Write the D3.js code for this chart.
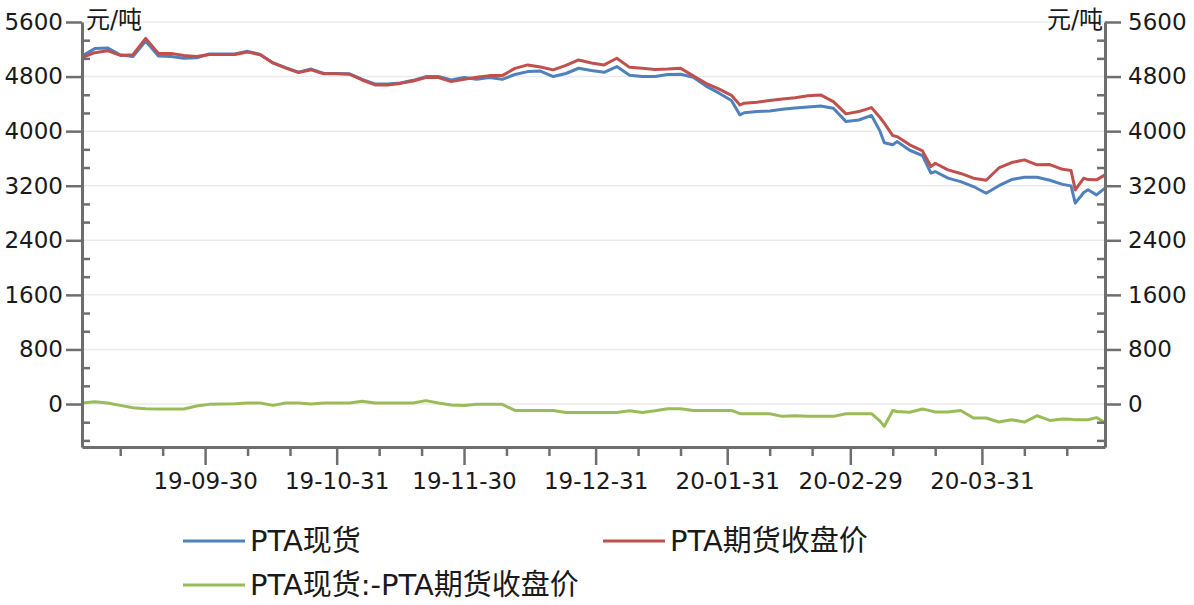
<!DOCTYPE html>
<html>
<head>
<meta charset="utf-8">
<script src="https://cdn.jsdelivr.net/npm/d3@7"></script>
<style>
  body { margin: 0; background: #fff; }
  svg { display: block; }
  text { font-family: "DejaVu Sans", "Noto Sans CJK SC", sans-serif; fill: #1a1a1a; }
</style>
</head>
<body>
<svg id="chart" width="1194" height="605"></svg>
<script>
const dates = [
  "2019-09-01","2019-09-04","2019-09-07","2019-09-10","2019-09-13","2019-09-16","2019-09-19","2019-09-22","2019-09-25","2019-09-28",
  "2019-10-01","2019-10-04","2019-10-07","2019-10-10","2019-10-13","2019-10-16","2019-10-19","2019-10-22","2019-10-25","2019-10-28","2019-10-31",
  "2019-11-03","2019-11-06","2019-11-09","2019-11-12","2019-11-15","2019-11-18","2019-11-21","2019-11-24","2019-11-27","2019-11-30",
  "2019-12-03","2019-12-06","2019-12-09","2019-12-12","2019-12-15","2019-12-18","2019-12-21","2019-12-24","2019-12-27","2019-12-30",
  "2020-01-02","2020-01-05","2020-01-08","2020-01-11","2020-01-14","2020-01-17","2020-01-20","2020-01-23","2020-01-26","2020-01-29",
  "2020-02-01","2020-02-03","2020-02-04","2020-02-07","2020-02-10","2020-02-13","2020-02-16","2020-02-19","2020-02-22","2020-02-25","2020-02-28",
  "2020-03-02","2020-03-05","2020-03-07","2020-03-08","2020-03-10","2020-03-11","2020-03-14","2020-03-17","2020-03-19","2020-03-20","2020-03-23","2020-03-26","2020-03-29",
  "2020-04-01","2020-04-04","2020-04-07","2020-04-10","2020-04-13","2020-04-16","2020-04-19","2020-04-21","2020-04-22","2020-04-24","2020-04-25","2020-04-27","2020-04-29"
];

// PTA现货
const spot = [
  5100,5210,5220,5120,5095,5320,5100,5095,5070,5075,
  5130,5130,5130,5170,5125,5000,4930,4865,4910,4845,4845,
  4840,4760,4692,4692,4705,4745,4800,4800,4751,4785,
  4760,4785,4760,4830,4873,4880,4800,4845,4922,4890,
  4863,4946,4820,4800,4800,4830,4834,4790,4660,4560,
  4450,4238,4270,4287,4295,4320,4340,4355,4370,4336,4140,
  4163,4230,4000,3830,3800,3847,3720,3640,3384,3408,3311,3260,3188,
  3090,3200,3290,3325,3325,3280,3220,3198,2945,3100,3140,3066,3164
];

// PTA期货收盘价
const futures = [
  5080,5150,5180,5110,5120,5360,5140,5140,5110,5095,
  5125,5125,5125,5160,5120,5000,4925,4860,4900,4840,4840,
  4835,4750,4678,4678,4700,4736,4785,4785,4726,4760,
  4790,4814,4814,4920,4971,4940,4898,4965,5044,5000,
  4971,5069,4935,4922,4905,4910,4922,4810,4700,4620,
  4525,4385,4410,4424,4450,4470,4490,4520,4531,4433,4253,
  4287,4345,4200,4117,3935,3920,3800,3710,3481,3530,3432,3380,3311,
  3280,3460,3540,3579,3506,3510,3440,3423,3139,3311,3290,3286,3359
];

// PTA现货:-PTA期货收盘价
const spread = [
  15,35,15,-20,-55,-70,-73,-73,-73,-30,
  -5,0,5,15,15,-20,15,15,0,15,15,
  15,40,15,15,15,15,50,15,-15,-20,
  -5,-5,-5,-94,-94,-94,-94,-123,-123,-123,
  -123,-123,-100,-123,-100,-69,-69,-94,-94,-94,
  -94,-142,-142,-142,-142,-181,-172,-180,-181,-181,-142,
  -142,-142,-250,-328,-94,-110,-120,-73,-100,-117,-117,-94,-205,
  -205,-264,-230,-264,-172,-240,-220,-225,-230,-230,-230,-200,-270
];

const seriesNames = ["PTA现货", "PTA期货收盘价", "PTA现货:-PTA期货收盘价"];
const seriesColors = ["#4f81bd", "#c0504d", "#9bbb59"];

const xMajorTicks = ["2019-09-30","2019-10-31","2019-11-30","2019-12-31","2020-01-31","2020-02-29","2020-03-31"];
const xTickLabels = ["19-09-30","19-10-31","19-11-30","19-12-31","20-01-31","20-02-29","20-03-31"];
const xMinorTicks = ["2019-09-10","2019-09-20","2019-10-10","2019-10-20","2019-11-10","2019-11-20","2019-12-10","2019-12-20",
  "2020-01-10","2020-01-20","2020-02-10","2020-02-20","2020-03-10","2020-03-20","2020-04-10","2020-04-20"];
const yMajorTicks = [0, 800, 1600, 2400, 3200, 4000, 4800, 5600];
const yMinorTicks = [-533.3, -266.7, 266.7, 533.3, 1066.7, 1333.3, 1866.7, 2133.3, 2666.7, 2933.3, 3466.7, 3733.3, 4266.7, 4533.3, 5066.7, 5333.3];
const unitLabel = "元/吨";

const parse = d3.timeParse("%Y-%m-%d");
const dt = dates.map(parse);

const plot = { left: 82, right: 1105, top: 22, bottom: 447 };
const svg = d3.select("#chart");

const x = d3.scaleTime()
  .domain([parse("2019-09-01"), parse("2020-04-29")])
  .range([plot.left, plot.right]);
const y = d3.scaleLinear()
  .domain([-630, 5600])
  .range([plot.bottom, plot.top]);

// gridlines
svg.append("g")
  .selectAll("line")
  .data(yMajorTicks)
  .enter().append("line")
  .attr("x1", plot.left).attr("x2", plot.right)
  .attr("y1", d => y(d)).attr("y2", d => y(d))
  .attr("stroke", "#ebebeb")
  .attr("stroke-width", 1.5);

// lines
const line = d3.line()
  .x((d, i) => x(dt[i]))
  .y(d => y(d));

[spot, futures, spread].forEach((s, k) => {
  svg.append("path")
    .datum(s)
    .attr("fill", "none")
    .attr("stroke", seriesColors[k])
    .attr("stroke-width", 3)
    .attr("stroke-linejoin", "round")
    .attr("d", line);
});

function styleAxis(g) {
  g.select(".domain").attr("stroke", "#6e6e6e").attr("stroke-width", 3);
  g.selectAll(".tick line").attr("stroke", "#6e6e6e").attr("stroke-width", 2.5);
  g.selectAll(".tick text").attr("font-size", 23).attr("fill", "#1a1a1a")
    .attr("font-family", "'DejaVu Sans', sans-serif");
}

const fmt = d3.format("d");

// left axis
svg.append("g")
  .attr("transform", `translate(${plot.left},0)`)
  .call(d3.axisLeft(y).tickValues(yMajorTicks).tickFormat(fmt).tickSize(16).tickPadding(3).tickSizeOuter(0))
  .call(styleAxis);
svg.append("g")
  .attr("transform", `translate(${plot.left},0)`)
  .call(d3.axisRight(y).tickValues(yMinorTicks).tickSize(8).tickFormat(""))
  .call(g => g.select(".domain").remove())
  .call(styleAxis);

// right axis
svg.append("g")
  .attr("transform", `translate(${plot.right},0)`)
  .call(d3.axisRight(y).tickValues(yMajorTicks).tickFormat(fmt).tickSize(16).tickPadding(7).tickSizeOuter(0))
  .call(styleAxis);
svg.append("g")
  .attr("transform", `translate(${plot.right},0)`)
  .call(d3.axisLeft(y).tickValues(yMinorTicks).tickSize(8).tickFormat(""))
  .call(g => g.select(".domain").remove())
  .call(styleAxis);

// bottom axis
svg.append("g")
  .attr("transform", `translate(0,${plot.bottom})`)
  .call(d3.axisBottom(x).tickValues(xMajorTicks.map(parse)).tickSize(18).tickPadding(8).tickSizeOuter(0)
    .tickFormat((d, i) => xTickLabels[i]))
  .call(styleAxis);
svg.append("g")
  .attr("transform", `translate(0,${plot.bottom})`)
  .call(d3.axisBottom(x).tickValues(xMinorTicks.map(parse)).tickSize(9).tickFormat(""))
  .call(g => g.select(".domain").remove())
  .call(styleAxis);

// unit labels
svg.append("text").attr("x", 86).attr("y", 28).attr("font-size", 24).text(unitLabel);
svg.append("text").attr("x", 1103).attr("y", 28).attr("font-size", 24)
  .attr("text-anchor", "end").text(unitLabel);

// legend
const legendPos = [[183, 541], [603, 541], [183, 585]];
seriesNames.forEach((name, k) => {
  const [lx, ly] = legendPos[k];
  svg.append("line")
    .attr("x1", lx).attr("x2", lx + 62)
    .attr("y1", ly).attr("y2", ly)
    .attr("stroke", seriesColors[k]).attr("stroke-width", 3);
  svg.append("text")
    .attr("x", lx + 67).attr("y", ly)
    .attr("dy", "0.36em")
    .attr("font-size", 29)
    .text(name);
});
</script>
</body>
</html>
